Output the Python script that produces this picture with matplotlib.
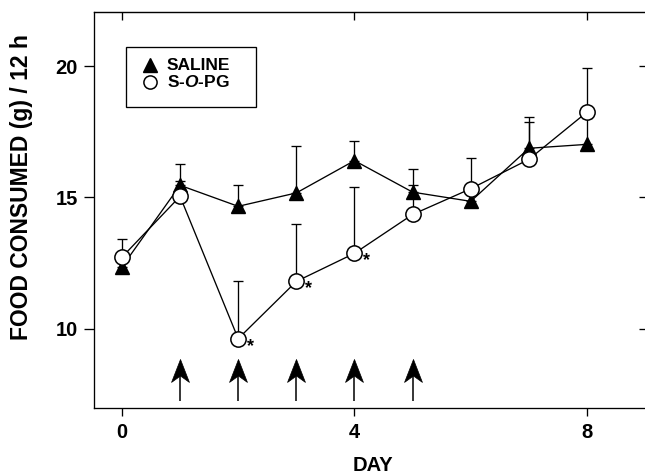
import matplotlib
matplotlib.use("Agg")
import matplotlib.pyplot as plt
from matplotlib.path import Path
from matplotlib.patches import Rectangle

plt.rcParams['font.family'] = ['Liberation Sans', 'DejaVu Sans']
plt.rcParams['font.weight'] = 'bold'
plt.rcParams['mathtext.fontset'] = 'custom'
plt.rcParams['mathtext.it'] = 'Liberation Sans:italic:bold'
plt.rcParams['mathtext.rm'] = 'Liberation Sans:bold'

days = [0, 1, 2, 3, 4, 5, 6, 7, 8]
saline_mean = [12.35, 15.46, 14.66, 15.17, 16.40, 15.20, 14.85, 16.87, 17.02]
saline_sem = [0.40, 0.80, 0.80, 1.78, 0.75, 0.87, 0.45, 1.18, 1.00]
sopg_mean = [12.72, 15.04, 9.62, 11.80, 12.87, 14.35, 15.33, 16.45, 18.25]
sopg_sem = [0.68, 0.60, 2.21, 2.17, 2.53, 1.11, 1.17, 1.41, 1.67]
star_days = [2, 3, 4]
injection_days = [1, 2, 3, 4, 5]
xticks = [0, 4, 8]
yticks = [10, 15, 20]
legend_labels = ['SALINE', r'S-$\mathit{O}$-PG']

fig = plt.figure(figsize=(6.45, 4.74), dpi=100)
W, H = 645, 474
L, R, T, B = 94, 651, 12, 408
ax = fig.add_axes([L / W, 1 - B / H, (R - L) / W, (B - T) / H])

ax.set_xlim(-0.48, 9.1)
ax.set_ylim(6.98, 22.06)

lw = 0.95
ax.errorbar(days, saline_mean, yerr=[[0] * len(days), saline_sem], fmt='none',
            ecolor='black', elinewidth=lw, capsize=3.8, capthick=lw, zorder=2)
ax.errorbar(days, sopg_mean, yerr=[[0] * len(days), sopg_sem], fmt='none',
            ecolor='black', elinewidth=lw, capsize=3.8, capthick=lw, zorder=2)

tri_kw = dict(marker='^', markersize=9.5, markerfacecolor='black', markeredgecolor='black')
circ_kw = dict(marker='o', markersize=11, markerfacecolor='white', markeredgecolor='black',
               markeredgewidth=1.1)
ax.plot(days, saline_mean, color='black', lw=lw, zorder=3, **tri_kw)
ax.plot(days, sopg_mean, color='black', lw=lw, zorder=4, **circ_kw)

for d in star_days:
    ax.annotate('*', xy=(d, sopg_mean[d]), xytext=(8.6, -5.5), textcoords='offset points',
                ha='center', va='center', fontsize=13, fontweight='bold')

# injection arrows: stem + notched head (tip at data point)
tip_y, tail_y = 8.85, 7.25
head = Path([(0, 0), (0.39, -1.0), (0, -0.72), (-0.39, -1.0), (0, 0)],
            [Path.MOVETO, Path.LINETO, Path.LINETO, Path.LINETO, Path.CLOSEPOLY])
ax.vlines(injection_days, tail_y, tip_y - 0.5, color='black', lw=1.1)
ax.plot(injection_days, [tip_y] * len(injection_days), linestyle='none', marker=head,
        markersize=33, markerfacecolor='black', markeredgecolor='black', markeredgewidth=0.5)

for s in ax.spines.values():
    s.set_linewidth(lw)

ax.set_xticks(xticks)
ax.set_yticks(yticks)
ax.tick_params(axis='y', direction='out', length=7.5, width=lw, labelsize=14.5, pad=4)
ax.tick_params(axis='x', direction='out', length=6, width=lw, labelsize=14.5, pad=5)
for lab in ax.get_xticklabels() + ax.get_yticklabels():
    lab.set_fontweight('bold')

secx = ax.secondary_xaxis('top')
secx.set_xticks(xticks)
secx.tick_params(direction='in', length=6, width=lw, labeltop=False)
secx.set_xticklabels([])
secy = ax.secondary_yaxis('right')
secy.set_yticks(yticks)
secy.tick_params(direction='in', length=9, width=lw, labelright=False)
secy.set_yticklabels([])

ax.set_xlabel('DAY', fontsize=14.5, fontweight='bold', labelpad=10)
ax.set_ylabel('FOOD CONSUMED (g) / 12 h', fontsize=16.5, fontweight='bold')
ax.yaxis.set_label_coords((33 - L) / (R - L), (B - 187) / (B - T))


def fx(px):
    return (px - L) / (R - L)


def fy(py):
    return (B - py) / (B - T)


# legend box drawn manually
ax.add_patch(Rectangle((fx(126), fy(107)), fx(256) - fx(126), fy(47) - fy(107),
                       transform=ax.transAxes, fill=True, facecolor='white',
                       edgecolor='black', lw=lw, zorder=5))
rows = [65, 82]
ax.plot([fx(150)], [fy(rows[0])], transform=ax.transAxes, clip_on=False, zorder=6,
        linestyle='none', **tri_kw)
ax.plot([fx(150)], [fy(rows[1])], transform=ax.transAxes, clip_on=False, zorder=6,
        linestyle='none', **{**circ_kw, 'markersize': 9.5})
for lbl, r in zip(legend_labels, rows):
    ax.text(fx(167), fy(r), lbl, transform=ax.transAxes, ha='left', va='center',
            fontsize=12.5, fontweight='bold', zorder=6)

fig.savefig('out.png', dpi=100)
